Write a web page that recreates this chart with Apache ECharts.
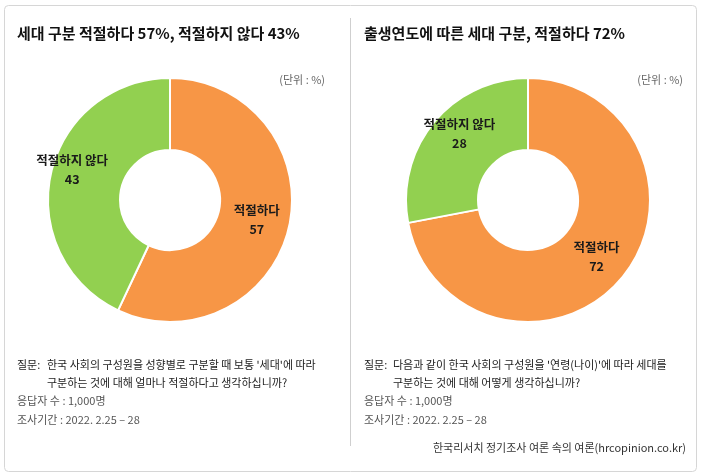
<!DOCTYPE html>
<html><head><meta charset="utf-8">
<script src="https://cdn.jsdelivr.net/npm/echarts/dist/echarts.min.js"></script>
<style>html,body{margin:0;padding:0;background:#fff}#c{width:702px;height:476px}</style>
</head><body><div id="c"></div>
<script>
const categories = ['적절하다', '적절하지 않다'];
const leftValues = [57, 43];
const rightValues = [72, 28];
const leftTitle = '세대 구분 적절하다 57%, 적절하지 않다 43%';
const rightTitle = '출생연도에 따른 세대 구분, 적절하다 72%';
const unitText = '(단위 : %)';
const leftQuestion = ["한국 사회의 구성원을 성향별로 구분할 때 보통 '세대'에 따라", '구분하는 것에 대해 얼마나 적절하다고 생각하십니까?'];
const rightQuestion = ["다음과 같이 한국 사회의 구성원을 '연령(나이)'에 따라 세대를", '구분하는 것에 대해 어떻게 생각하십니까?'];
const respondents = '응답자 수 : 1,000명';
const period = '조사기간 : 2022. 2.25 – 28';
const source = '한국리서치 정기조사 여론 속의 여론(hrcopinion.co.kr)';
const colors = ['#F79646', '#92D050'];

const FONT = '"Noto Sans CJK KR", "Noto Sans", sans-serif';
const chart = echarts.init(document.getElementById('c'));

function txt(text, x, y, size, color, weight, align) {
  return { type: 'text', x: x, y: y, silent: true,
    style: { text: text, fontSize: size, fontFamily: FONT, fontWeight: weight || 'normal',
      fill: color, align: align || 'left', verticalAlign: 'middle' } };
}

function pie(values, cx, greenOffset) {
  return {
    type: 'pie', center: [cx, 200], radius: [50, 122], startAngle: 90, clockwise: true,
    avoidLabelOverlap: false, animation: false,
    itemStyle: { borderColor: '#fff', borderWidth: 2 },
    label: { show: true, position: 'inside', formatter: '{b}\n{c}', color: '#1a1a1a',
      fontSize: 12.5, fontFamily: FONT, fontWeight: 'bold', lineHeight: 19 },
    labelLine: { show: false },
    data: categories.map((n, i) => ({ name: n, value: values[i], itemStyle: { color: colors[i] },
      label: i === 1 ? { offset: greenOffset } : {} }))
  };
}

const graphics = [
  { type: 'rect', shape: { x: 4.5, y: 5.5, width: 692, height: 466, r: 4 }, style: { fill: 'none', stroke: '#d6d6d6', lineWidth: 1 }, silent: true },
  { type: 'line', shape: { x1: 350.5, y1: 18, x2: 350.5, y2: 446 }, style: { stroke: '#cfcfcf', lineWidth: 1 }, silent: true },
  txt(leftTitle, 17, 33, 15, '#111', 'bold'),
  txt(rightTitle, 364, 33, 15, '#111', 'bold'),
  txt(unitText, 325, 80, 11, '#666', 'normal', 'right'),
  txt(unitText, 683, 80, 11, '#666', 'normal', 'right'),
  txt('질문:', 17, 365, 11, '#222'),
  txt(leftQuestion[0], 47, 365, 11, '#222'),
  txt(leftQuestion[1], 47, 383, 11, '#222'),
  txt(respondents, 17, 401, 11, '#555'),
  txt(period, 17, 420, 11, '#555'),
  txt('질문:', 364, 365, 11, '#222'),
  txt(rightQuestion[0], 393, 365, 11, '#222'),
  txt(rightQuestion[1], 393, 383, 11, '#222'),
  txt(respondents, 364, 401, 11, '#555'),
  txt(period, 364, 420, 11, '#555'),
  txt(source, 686, 448, 11, '#333', 'normal', 'right')
];

chart.setOption({
  backgroundColor: '#fff',
  animation: false,
  graphic: graphics,
  series: [pie(leftValues, 170, [-11, -11]), pie(rightValues, 528, [0, -10])]
});
</script></body></html>
